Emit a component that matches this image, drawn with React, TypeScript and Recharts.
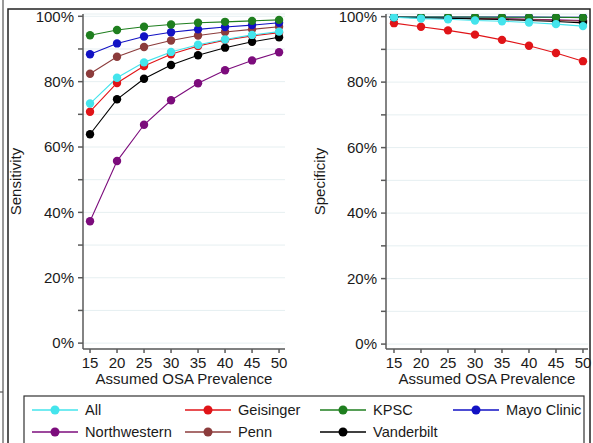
import { CartesianGrid, Line, LineChart, XAxis, YAxis } from "recharts";

const prevalence = [15, 20, 25, 30, 35, 40, 45, 50];

// sensitivity (%) by site
const sensAll = [73.3, 81.2, 85.9, 89.1, 91.3, 92.9, 94.3, 95.3];
const sensGeisinger = [70.8, 79.6, 84.8, 88.4, 90.9, 92.7, 94.0, 95.0];
const sensKpsc = [94.2, 95.8, 96.8, 97.5, 98.0, 98.3, 98.6, 98.9];
const sensMayo = [88.4, 91.7, 93.8, 95.1, 96.0, 96.7, 97.3, 98.0];
const sensNorthwestern = [37.3, 55.7, 66.8, 74.3, 79.5, 83.5, 86.5, 89.0];
const sensPenn = [82.4, 87.6, 90.6, 92.6, 94.1, 95.2, 96.0, 96.8];
const sensVanderbilt = [63.9, 74.6, 80.9, 85.1, 88.1, 90.4, 92.2, 93.6];

// specificity (%) by site
const specAll = [99.8, 99.4, 99.2, 98.8, 98.6, 98.2, 97.7, 97.1];
const specGeisinger = [98.0, 96.9, 95.8, 94.5, 92.9, 91.1, 88.9, 86.4];
const specKpsc = [99.9, 99.9, 99.9, 99.9, 99.8, 99.8, 99.8, 99.7];
const specMayo = [99.9, 99.9, 99.9, 99.9, 99.9, 99.9, 99.8, 99.8];
const specNorthwestern = [99.8, 99.7, 99.6, 99.5, 99.4, 99.2, 99.0, 98.8];
const specPenn = [99.8, 99.7, 99.6, 99.4, 99.3, 99.1, 98.9, 98.6];
const specVanderbilt = [99.8, 99.7, 99.5, 99.3, 99.1, 98.8, 98.5, 98.1];

const yTicks = [0, 10, 20, 30, 40, 50, 60, 70, 80, 90, 100];
const xTicks = prevalence;

const series = [
  { key: "all", name: "All", color: "#44e4ec" },
  { key: "geisinger", name: "Geisinger", color: "#e01418" },
  { key: "kpsc", name: "KPSC", color: "#1f7f1f" },
  { key: "mayo", name: "Mayo Clinic", color: "#1212c4" },
  { key: "northwestern", name: "Northwestern", color: "#7c0c7c" },
  { key: "penn", name: "Penn", color: "#8c3c3c" },
  { key: "vanderbilt", name: "Vanderbilt", color: "#000000" }
];

// order the lines are painted (last on top)
const drawOrder = ["geisinger", "northwestern", "penn", "vanderbilt", "mayo", "kpsc", "all"];

const sensData = prevalence.map((p, i) => ({
  p,
  all: sensAll[i],
  geisinger: sensGeisinger[i],
  kpsc: sensKpsc[i],
  mayo: sensMayo[i],
  northwestern: sensNorthwestern[i],
  penn: sensPenn[i],
  vanderbilt: sensVanderbilt[i]
}));

const specData = prevalence.map((p, i) => ({
  p,
  all: specAll[i],
  geisinger: specGeisinger[i],
  kpsc: specKpsc[i],
  mayo: specMayo[i],
  northwestern: specNorthwestern[i],
  penn: specPenn[i],
  vanderbilt: specVanderbilt[i]
}));

const font = "'Liberation Sans', Arial, sans-serif";
const axisColor = "#5a5a5a";
const tickStyle = { fontSize: 15, fill: "#1a1a1a", fontFamily: font };

function Panel({
  data,
  title,
  left,
  width,
  yAxisWidth,
  rightMargin,
  xDomain,
  yDomain,
  titleOffset
}: {
  data: typeof sensData;
  title: string;
  left: number;
  width: number;
  yAxisWidth: number;
  rightMargin: number;
  xDomain: [number, number];
  yDomain: [number, number];
  titleOffset: number;
}) {
  return (
    <div style={{ position: "absolute", left, top: 0 }}>
      <LineChart
        width={width}
        height={390}
        data={data}
        margin={{ top: 14, right: rightMargin, bottom: 0, left: 0 }}
      >
        <CartesianGrid vertical={false} stroke="#e6eff1" strokeWidth={1} />
        <XAxis
          dataKey="p"
          type="number"
          domain={xDomain}
          ticks={xTicks}
          allowDataOverflow
          height={41}
          stroke={axisColor}
          strokeWidth={1.5}
          tickSize={4}
          tickMargin={4}
          tick={tickStyle}
          label={{
            value: "Assumed OSA Prevalence",
            position: "insideBottom",
            offset: 6,
            style: { fontSize: 15, fill: "#1a1a1a", fontFamily: font }
          }}
        />
        <YAxis
          type="number"
          domain={yDomain}
          ticks={yTicks}
          allowDataOverflow
          width={yAxisWidth}
          stroke={axisColor}
          strokeWidth={1.5}
          tickSize={5}
          tickMargin={4}
          tick={tickStyle}
          tickFormatter={(v: number) => (v % 20 === 0 ? `${v}%` : "")}
          label={{
            value: title,
            angle: -90,
            position: "insideLeft",
            offset: titleOffset,
            style: { fontSize: 15, fill: "#1a1a1a", fontFamily: font, textAnchor: "middle" }
          }}
        />
        {drawOrder.map((k) => {
          const s = series.find((x) => x.key === k)!;
          return (
            <Line
              key={k}
              dataKey={k}
              name={s.name}
              stroke={s.color}
              strokeWidth={1.1}
              dot={{ r: 4.2, fill: s.color, stroke: s.color, strokeWidth: 0 }}
              isAnimationActive={false}
            />
          );
        })}
      </LineChart>
    </div>
  );
}

const legendCols = [32, 185, 320, 453];
const legendRows = [410, 432];

function FrameAndLegend() {
  return (
    <svg
      width={593}
      height={443}
      style={{ position: "absolute", left: 0, top: 0, pointerEvents: "none" }}
    >
      <line x1={3} y1={0} x2={3} y2={443} stroke="#555" strokeWidth={1.2} />
      <line x1={0} y1={392} x2={3} y2={392} stroke="#555" strokeWidth={1.2} />
      <rect x={8} y={9} width={582} height={460} fill="none" stroke="#222" strokeWidth={1.5} />
      <rect x={24} y={396} width={560} height={60} fill="none" stroke="#333" strokeWidth={1.2} />
      {series.map((s, i) => {
        const x = legendCols[i % 4];
        const y = legendRows[Math.floor(i / 4)];
        return (
          <g key={s.key}>
            <line x1={x} y1={y} x2={x + 46} y2={y} stroke={s.color} strokeWidth={1.5} />
            <circle cx={x + 23} cy={y} r={4.5} fill={s.color} />
            <text
              x={x + 53}
              y={y}
              dy="0.36em"
              fontSize={14.6}
              fontFamily={font}
              fill="#1a1a1a"
            >
              {s.name}
            </text>
          </g>
        );
      })}
    </svg>
  );
}

export default function App() {
  return (
    <div
      style={{
        position: "absolute",
        left: 0,
        top: 0,
        width: 593,
        height: 443,
        overflow: "hidden",
        background: "#fff"
      }}
    >
      <Panel
        data={sensData}
        title="Sensitivity"
        left={0}
        width={300}
        yAxisWidth={83}
        rightMargin={15}
        xDomain={[13.7, 51.1]}
        yDomain={[-1.8, 100.7]}
        titleOffset={16}
      />
      <Panel
        data={specData}
        title="Specificity"
        left={300}
        width={293}
        yAxisWidth={86}
        rightMargin={5}
        xDomain={[13.52, 50.93]}
        yDomain={[-1.5, 100.8]}
        titleOffset={20}
      />
      <FrameAndLegend />
    </div>
  );
}
